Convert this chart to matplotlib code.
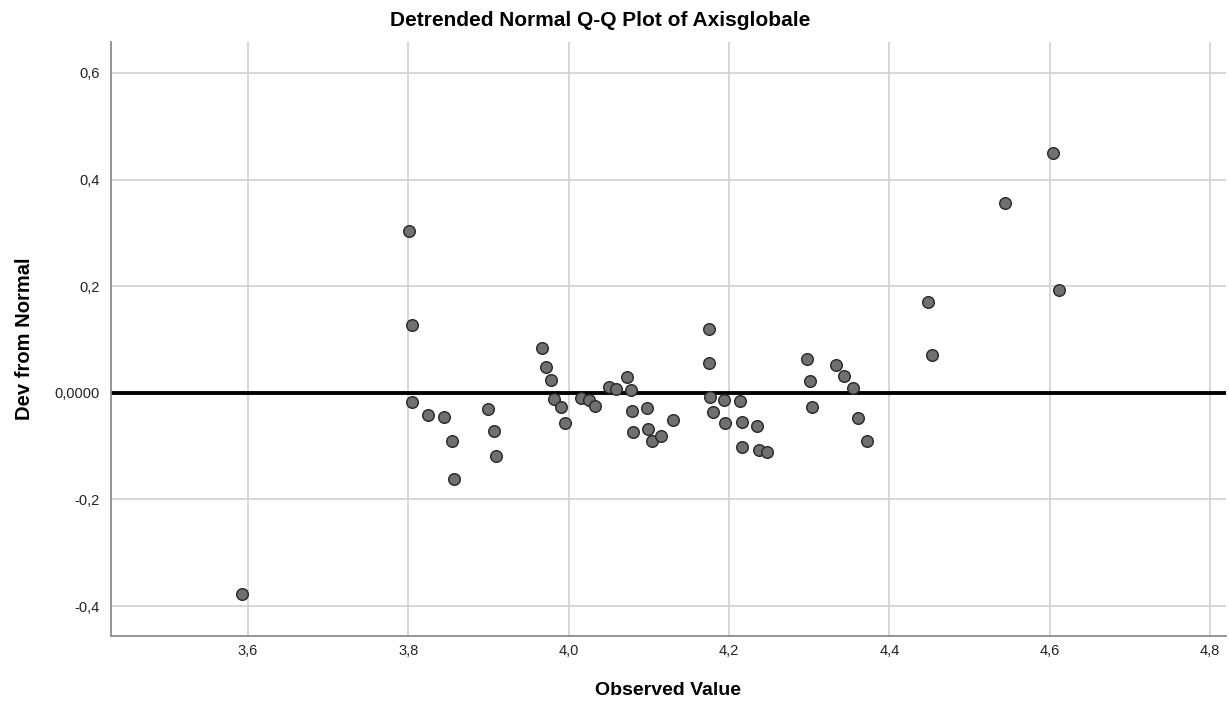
import numpy as np
import matplotlib.pyplot as plt
from matplotlib.ticker import FuncFormatter

plt.rcParams['font.family'] = ['Liberation Sans', 'DejaVu Sans']

observed = [3.593,
            3.801, 3.804, 3.804, 3.824, 3.845, 3.854, 3.857, 3.900, 3.907, 3.910,
            3.967, 3.972, 3.978, 3.982, 3.990, 3.995,
            4.016, 4.025, 4.033, 4.050, 4.059, 4.073, 4.078, 4.079, 4.080,
            4.098, 4.099, 4.104, 4.115, 4.130,
            4.175, 4.175, 4.176, 4.180,
            4.194, 4.195, 4.214, 4.216, 4.216, 4.235, 4.237, 4.248,
            4.297, 4.301, 4.304, 4.334, 4.344, 4.355, 4.361, 4.372,
            4.448, 4.453, 4.544, 4.604, 4.612]
deviation = [-0.378,
             0.303, 0.127, -0.017, -0.041, -0.046, -0.090, -0.162, -0.031, -0.071, -0.119,
             0.085, 0.049, 0.024, -0.012, -0.027, -0.057,
             -0.010, -0.0135, -0.024, 0.011, 0.007, 0.029, 0.005, -0.034, -0.073,
             -0.029, -0.067, -0.090, -0.081, -0.050,
             0.119, 0.056, -0.008, -0.035,
             -0.014, -0.057, -0.015, -0.055, -0.102, -0.063, -0.107, -0.111,
             0.063, 0.022, -0.026, 0.053, 0.031, 0.009, -0.048, -0.091,
             0.170, 0.071, 0.357, 0.450, 0.193]

x_ticks = [3.6, 3.8, 4.0, 4.2, 4.4, 4.6, 4.8]
y_ticks = [-0.4, -0.2, 0.0, 0.2, 0.4, 0.6]

fig = plt.figure(figsize=(12.29, 7.11), dpi=100)
ax = fig.add_axes([0.0902, 0.1055, 0.9074, 0.8354])

ax.set_xlim(3.429, 4.82)
ax.set_ylim(-0.456, 0.658)
ax.set_xticks(x_ticks)
ax.set_yticks(y_ticks)
ax.grid(True, color='#d4d4d4', linewidth=1.3)
ax.set_axisbelow(True)

ax.axhline(0, color='black', linewidth=2.8, zorder=2)
ax.scatter(observed, deviation, s=70, facecolor='#707070', edgecolor='#262626',
           linewidth=1.0, zorder=3)

def fmt_y(v, pos):
    if abs(v) < 1e-9:
        return '0,0000'
    return f'{v:.1f}'.replace('.', ',')

ax.xaxis.set_major_formatter(FuncFormatter(lambda v, p: f'{v:.1f}'.replace('.', ',')))
ax.yaxis.set_major_formatter(FuncFormatter(fmt_y))
ax.tick_params(length=0, labelsize=10.5, colors='#222222')
ax.tick_params(axis='x', pad=6)
ax.tick_params(axis='y', pad=8)

for side in ['top', 'right']:
    ax.spines[side].set_visible(False)
for side in ['left', 'bottom']:
    ax.spines[side].set_color('#8c8c8c')
    ax.spines[side].set_linewidth(1.3)

ax.set_xlabel('Observed Value', fontsize=14, fontweight='bold', labelpad=17)
ax.set_ylabel('Dev from Normal', fontsize=14.5, fontweight='bold', labelpad=15)
fig.text(600 / 1229, 1 - 20 / 711, 'Detrended Normal Q-Q Plot of Axisglobale',
         ha='center', va='center', fontsize=15, fontweight='bold')

fig.savefig('out.png', dpi=100)
